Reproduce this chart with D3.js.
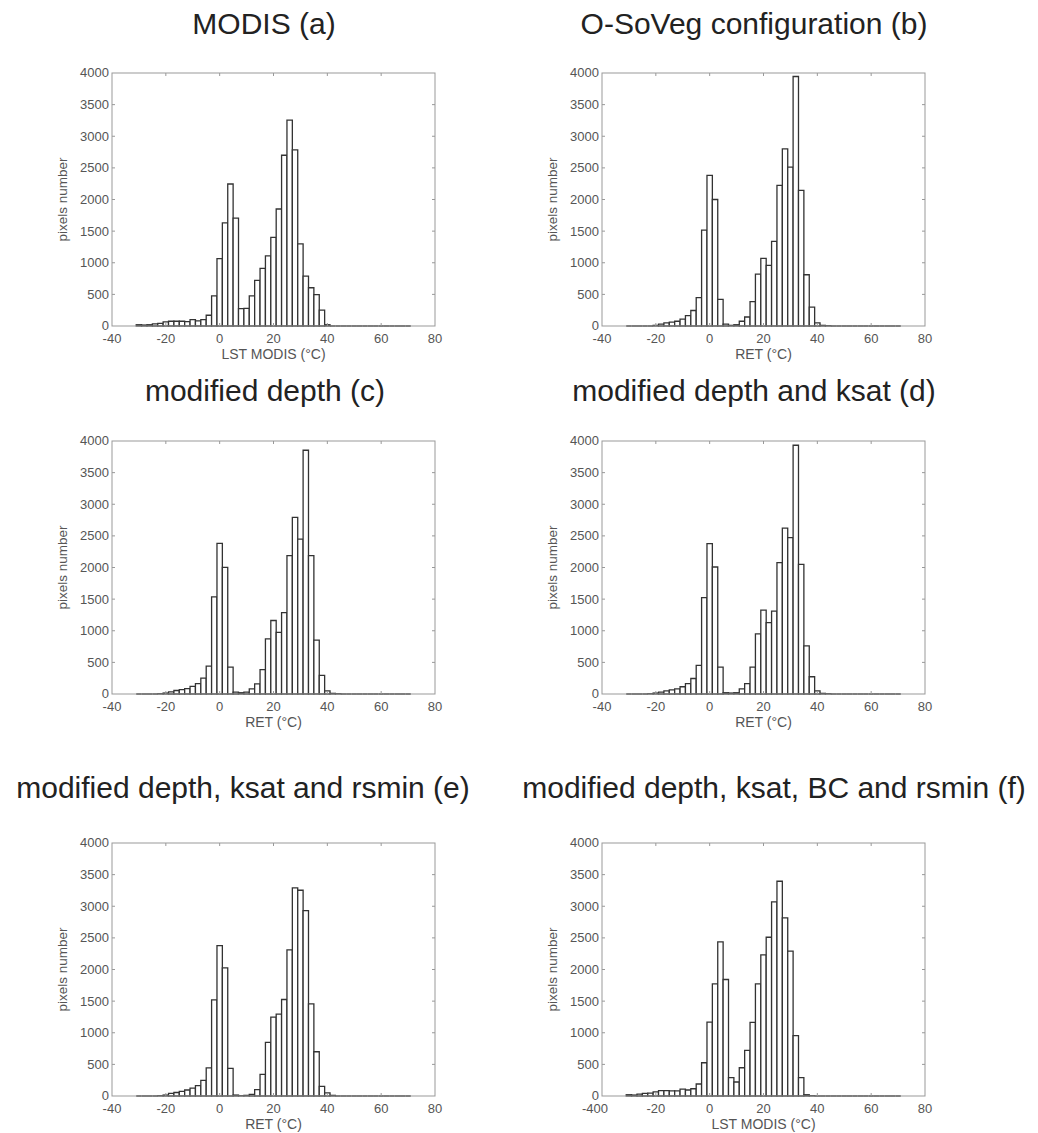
<!DOCTYPE html>
<html>
<head>
<meta charset="utf-8">
<script src="https://cdn.jsdelivr.net/npm/d3@7"></script>
<style>
  body { margin: 0; background: #fff; }
  text { font-family: "Liberation Sans", Arial, Helvetica, sans-serif; }
</style>
</head>
<body>
<div id="chart"></div>
<script>
// histogram bins (centres, °C) shared by all six panels
const binCenters = [-30, -28, -26, -24, -22, -20, -18, -16, -14, -12, -10, -8, -6, -4, -2,
  0, 2, 4, 6, 8, 10, 12, 14, 16, 18, 20, 22, 24, 26, 28, 30, 32, 34, 36, 38, 40,
  42, 44, 46, 48, 50, 52, 54, 56, 58, 60, 62, 64, 66, 68, 70];
const binWidth = 2;

const xTicks = [-40, -20, 0, 20, 40, 60, 80];
const yTicks = [0, 500, 1000, 1500, 2000, 2500, 3000, 3500, 4000];

// pixel counts per bin
const countsModis = [20, 15, 20, 35, 40, 65, 75, 75, 75, 70, 100, 80, 100, 170, 475,
  1065, 1630, 2245, 1705, 275, 280, 475, 720, 910, 1110, 1400, 1850, 2700, 3255, 2785, 1300, 790, 605, 495, 250, 20,
  0, 0, 0, 0, 0, 0, 0, 0, 0, 0, 0, 0, 0, 0, 0];
const countsOSoVeg = [0, 0, 0, 0, 0, 10, 30, 50, 60, 75, 110, 165, 245, 448, 1517,
  2380, 2000, 420, 30, 10, 20, 75, 142, 385, 820, 1070, 960, 1338, 2222, 2800, 2513, 3945, 2144, 810, 300, 50,
  10, 5, 0, 0, 0, 0, 0, 0, 0, 0, 0, 0, 0, 0, 0];
const countsDepth = [0, 0, 0, 0, 5, 15, 35, 55, 70, 85, 120, 165, 250, 442, 1535,
  2382, 2003, 426, 30, 20, 30, 80, 160, 384, 873, 1162, 973, 1288, 2187, 2792, 2450, 3854, 2187, 852, 294, 50,
  10, 5, 0, 0, 0, 0, 0, 0, 0, 0, 0, 0, 0, 0, 0];
const countsDepthKsat = [0, 0, 0, 0, 5, 15, 30, 50, 65, 80, 115, 165, 245, 452, 1524,
  2376, 2008, 426, 20, 15, 20, 80, 163, 426, 952, 1325, 1130, 1309, 2077, 2623, 2471, 3933, 2050, 762, 273, 50,
  10, 5, 0, 0, 0, 0, 0, 0, 0, 0, 0, 0, 0, 0, 0];
const countsDepthKsatRsmin = [0, 0, 0, 0, 5, 15, 40, 55, 74, 95, 126, 165, 248, 445, 1521,
  2379, 2026, 437, 15, 5, 10, 25, 100, 342, 847, 1247, 1295, 1526, 2310, 3289, 3253, 2932, 1458, 700, 153, 50,
  10, 0, 0, 0, 0, 0, 0, 0, 0, 0, 0, 0, 0, 0, 0];
const countsDepthKsatBcRsmin = [20, 15, 30, 40, 45, 65, 85, 85, 80, 80, 110, 95, 115, 190, 526,
  1168, 1774, 2437, 1842, 289, 221, 447, 721, 1163, 1774, 2232, 2510, 3068, 3395, 2816, 2290, 953, 289, 20, 5, 0,
  0, 0, 0, 0, 0, 0, 0, 0, 0, 0, 0, 0, 0, 0, 0];

const titles = ["MODIS (a)", "O-SoVeg configuration (b)", "modified depth (c)",
  "modified depth and ksat (d)", "modified depth, ksat and rsmin (e)", "modified depth, ksat, BC and rsmin (f)"];
const xLabels = ["LST MODIS (°C)", "RET (°C)", "RET (°C)", "RET (°C)", "RET (°C)", "LST MODIS (°C)"];
const yLabel = "pixels number";
const series = [countsModis, countsOSoVeg, countsDepth, countsDepthKsat, countsDepthKsatRsmin, countsDepthKsatBcRsmin];

// layout
const W = 1038, H = 1133;
const plotW = 323, plotH = 253;
const colLeft = [112, 602];
const rowTop = [73, 441, 843];
const titleY = [34, 401, 798];
const titleX = [264, 754, 265, 754, 243, 774];

const svg = d3.select("#chart")
  .append("svg")
  .attr("width", W)
  .attr("height", H)
  .style("background", "#fff");

const x = d3.scaleLinear().domain([-40, 80]).range([0, plotW]);
const y = d3.scaleLinear().domain([0, 4000]).range([plotH, 0]);

series.forEach((counts, i) => {
  const left = colLeft[i % 2];
  const top = rowTop[Math.floor(i / 2)];

  svg.append("text")
    .attr("x", titleX[i])
    .attr("y", titleY[Math.floor(i / 2)])
    .attr("text-anchor", "middle")
    .attr("font-size", 30)
    .attr("fill", "#222")
    .text(titles[i]);

  const g = svg.append("g").attr("transform", `translate(${left},${top})`);

  // bars (zero bins still draw as a line on the baseline, like matlab hist)
  const bins = binCenters.map((c, k) => ({ c: c, v: counts[k] }));
  g.append("g")
    .selectAll("path")
    .data(bins)
    .join("path")
    .attr("d", d => {
      const x0 = x(d.c - binWidth / 2), x1 = x(d.c + binWidth / 2);
      return `M${x0},${y(0)}V${y(d.v)}H${x1}V${y(0)}Z`;
    })
    .attr("fill", "#fff")
    .attr("stroke", "#333")
    .attr("stroke-width", 1.3);

  // box
  g.append("rect")
    .attr("width", plotW)
    .attr("height", plotH)
    .attr("fill", "none")
    .attr("stroke", "#999")
    .attr("stroke-width", 1);

  // inward ticks on all four sides
  const tk = 3;
  const tickG = g.append("g").attr("stroke", "#999").attr("stroke-width", 1);
  xTicks.slice(1, -1).forEach(t => {
    tickG.append("line").attr("x1", x(t)).attr("x2", x(t)).attr("y1", plotH).attr("y2", plotH - tk);
    tickG.append("line").attr("x1", x(t)).attr("x2", x(t)).attr("y1", 0).attr("y2", tk);
  });
  yTicks.slice(1, -1).forEach(t => {
    tickG.append("line").attr("x1", 0).attr("x2", tk).attr("y1", y(t)).attr("y2", y(t));
    tickG.append("line").attr("x1", plotW).attr("x2", plotW - tk).attr("y1", y(t)).attr("y2", y(t));
  });

  // tick labels
  g.append("g")
    .selectAll("text")
    .data(xTicks)
    .join("text")
    .attr("x", (d, k) => x(d) + (i === 5 && k === 0 ? -7 : 0))
    .attr("y", plotH + 16.5)
    .attr("text-anchor", "middle")
    .attr("font-size", 13)
    .attr("fill", "#555")
    .text((d, k) => (i === 5 && k === 0 ? "-400" : d));

  g.append("g")
    .selectAll("text")
    .data(yTicks)
    .join("text")
    .attr("x", -3)
    .attr("y", d => y(d))
    .attr("dy", "0.34em")
    .attr("text-anchor", "end")
    .attr("font-size", 13)
    .attr("fill", "#555")
    .text(d => d);

  g.append("text")
    .attr("x", plotW / 2)
    .attr("y", plotH + 33)
    .attr("text-anchor", "middle")
    .attr("font-size", 14)
    .attr("fill", "#555")
    .text(xLabels[i]);

  g.append("text")
    .attr("transform", `translate(-45,${plotH / 2}) rotate(-90)`)
    .attr("text-anchor", "middle")
    .attr("font-size", 13.5)
    .attr("fill", "#555")
    .text(yLabel);
});
</script>
</body>
</html>
